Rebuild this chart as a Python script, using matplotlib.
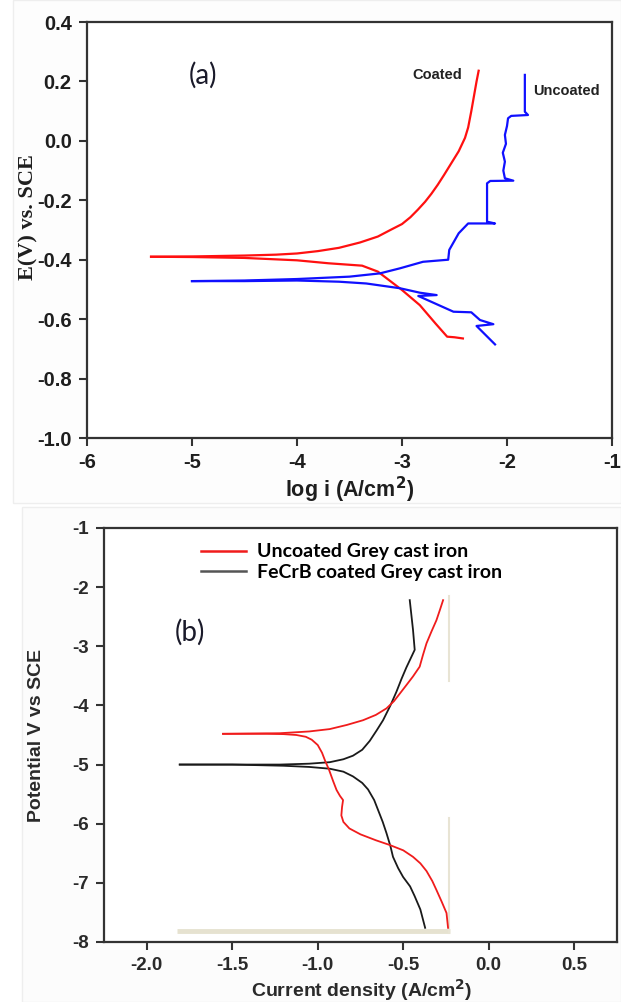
import matplotlib
matplotlib.use("Agg")
import matplotlib.pyplot as plt
from matplotlib.patches import Rectangle

plt.rcParams['axes.unicode_minus'] = False
plt.rcParams['font.family'] = ['Liberation Sans', 'DejaVu Sans']

# ---------------- Panel (a) data: log i (A/cm2) vs E (V vs SCE) ----------------
a_coated_anodic_x = [-5.39, -5.0, -4.5, -4.2, -4.0, -3.8, -3.6, -3.4, -3.23, -3.1, -3.0, -2.92,
                     -2.85, -2.78, -2.72, -2.66, -2.60, -2.53, -2.46, -2.40, -2.37, -2.34,
                     -2.31, -2.29, -2.27]
a_coated_anodic_y = [-0.390, -0.389, -0.386, -0.383, -0.379, -0.371, -0.360, -0.342, -0.322,
                     -0.298, -0.280, -0.257, -0.232, -0.205, -0.178, -0.148, -0.115, -0.075,
                     -0.035, 0.010, 0.045, 0.100, 0.160, 0.200, 0.236]
a_coated_cathodic_x = [-5.39, -5.0, -4.5, -4.0, -3.7, -3.38, -3.23, -3.0, -2.83, -2.68, -2.57,
                       -2.50, -2.42]
a_coated_cathodic_y = [-0.390, -0.391, -0.394, -0.402, -0.412, -0.420, -0.440, -0.502, -0.553,
                       -0.615, -0.659, -0.661, -0.665]
a_uncoated_anodic_x = [-5.0, -4.5, -4.0, -3.5, -3.21, -3.02, -2.80, -2.56, -2.55, -2.46, -2.37,
                       -2.114, -2.19, -2.19, -2.16, -1.94, -2.02, -2.035, -2.02, -2.04, -2.01,
                       -2.02, -2.00, -1.99, -1.96, -1.80, -1.83, -1.83]
a_uncoated_anodic_y = [-0.472, -0.470, -0.465, -0.457, -0.446, -0.429, -0.407, -0.400, -0.367,
                       -0.311, -0.278, -0.278, -0.272, -0.143, -0.135, -0.134, -0.126, -0.100,
                       -0.070, -0.040, -0.010, 0.020, 0.050, 0.076, 0.084, 0.087, 0.098, 0.222]
a_uncoated_cathodic_x = [-5.0, -4.5, -4.0, -3.6, -3.34, -3.02, -2.83, -2.67, -2.845, -2.51,
                         -2.34, -2.257, -2.13, -2.29, -2.114]
a_uncoated_cathodic_y = [-0.472, -0.472, -0.470, -0.474, -0.480, -0.496, -0.511, -0.519, -0.522,
                         -0.575, -0.577, -0.603, -0.617, -0.623, -0.685]
a_xticks = [-6, -5, -4, -3, -2, -1]
a_yticks = [-1.0, -0.8, -0.6, -0.4, -0.2, 0.0, 0.2, 0.4]

# ---------------- Panel (b) data: current density vs potential ----------------
b_uncoated_up_x = [-1.554, -1.40, -1.222, -1.05, -0.93, -0.83, -0.735, -0.66, -0.598, -0.555,
                   -0.52, -0.48, -0.443, -0.404, -0.385, -0.364, -0.335, -0.306, -0.285, -0.267]
b_uncoated_up_y = [-4.48, -4.475, -4.47, -4.44, -4.40, -4.33, -4.25, -4.16, -4.05, -3.93,
                   -3.80, -3.65, -3.51, -3.345, -3.15, -2.95, -2.75, -2.56, -2.38, -2.22]
b_uncoated_low_x = [-1.554, -1.3, -1.2, -1.125, -1.07, -1.035, -1.0, -0.975, -0.955, -0.935,
                    -0.91, -0.89, -0.87, -0.852, -0.858, -0.862, -0.85, -0.815, -0.75, -0.66,
                    -0.579, -0.50, -0.443, -0.40, -0.364, -0.33, -0.306, -0.275, -0.247, -0.238]
b_uncoated_low_y = [-4.48, -4.48, -4.485, -4.50, -4.53, -4.58, -4.67, -4.80, -4.95, -5.08,
                    -5.28, -5.43, -5.53, -5.60, -5.72, -5.86, -5.97, -6.08, -6.18, -6.28,
                    -6.36, -6.45, -6.56, -6.67, -6.80, -6.97, -7.12, -7.32, -7.51, -7.76]
b_coated_up_x = [-1.807, -1.5, -1.222, -1.05, -0.93, -0.85, -0.794, -0.74, -0.696, -0.655,
                 -0.618, -0.575, -0.54, -0.51, -0.482, -0.433, -0.443, -0.462]
b_coated_up_y = [-5.0, -5.0, -5.0, -4.985, -4.96, -4.91, -4.85, -4.75, -4.60, -4.42,
                 -4.25, -4.0, -3.77, -3.55, -3.36, -3.06, -2.72, -2.22]
b_coated_low_x = [-1.807, -1.5, -1.2, -1.05, -0.93, -0.85, -0.794, -0.74, -0.706, -0.67,
                  -0.647, -0.62, -0.598, -0.575, -0.56, -0.53, -0.501, -0.46, -0.434, -0.40,
                  -0.372]
b_coated_low_y = [-5.0, -5.0, -5.02, -5.04, -5.07, -5.12, -5.20, -5.31, -5.42, -5.60,
                  -5.77, -5.97, -6.16, -6.38, -6.56, -6.75, -6.90, -7.06, -7.22, -7.45,
                  -7.76]
b_labels = ["Uncoated Grey cast iron", "FeCrB coated Grey cast iron"]
b_xticks = [-2.0, -1.5, -1.0, -0.5, 0.0, 0.5]
b_yticks = [-8, -7, -6, -5, -4, -3, -2, -1]

W, H = 621, 1002
fig = plt.figure(figsize=(W / 100, H / 100), dpi=100)
fig.patch.set_facecolor('white')

# faint panel backgrounds (scanned figure look)
fig.add_artist(Rectangle((13 / W, 1 - 503 / H), 608 / W, 503 / H, transform=fig.transFigure,
                         facecolor='#fdfdfd', edgecolor='#eeeeee', lw=1, zorder=-10))
fig.add_artist(Rectangle((22 / W, 0), 599 / W, 1 - 507 / H, transform=fig.transFigure,
                         facecolor='#fcfcfc', edgecolor='#eeeeee', lw=1, zorder=-10))

# ---------------- Panel (a) ----------------
axa = fig.add_axes([87 / W, 1 - 438 / H, 525 / W, 416 / H])
axa.set_facecolor('white')
lw_a = 1.6
axa.plot(a_coated_anodic_x, a_coated_anodic_y, color='#ff1010', lw=lw_a)
axa.plot(a_coated_cathodic_x, a_coated_cathodic_y, color='#ff1010', lw=lw_a)
axa.plot(a_uncoated_anodic_x, a_uncoated_anodic_y, color='#1010ff', lw=lw_a)
axa.plot(a_uncoated_cathodic_x, a_uncoated_cathodic_y, color='#1010ff', lw=lw_a)
axa.set_xlim(-6, -1)
axa.set_ylim(-1.0, 0.4)
axa.set_xticks(a_xticks)
axa.set_xticklabels([str(t) for t in a_xticks])
axa.set_yticks(a_yticks)
axa.set_yticklabels(['%.1f' % t for t in a_yticks])
for lab in axa.get_xticklabels() + axa.get_yticklabels():
    lab.set_fontweight('bold')
    lab.set_fontsize(14.5)
    lab.set_color('#1e1e1e')
axa.tick_params(direction='out', length=6, width=1.5, color='#333333', pad=5)
for s in axa.spines.values():
    s.set_linewidth(1.6)
    s.set_color('#333333')
axa.set_xlabel('log i (A/cm$^\\mathbf{2}$)', fontsize=15.5, fontweight='bold', color='#1e1e1e',
               labelpad=2)
axa.set_ylabel('E(V) vs. SCE', fontsize=16, fontweight='bold', color='#1e1e1e',
               family=['Liberation Serif', 'DejaVu Serif'])
axa.yaxis.set_label_coords(-0.093, 0.53)
axa.text(-4.9, 0.222, '(a)', fontsize=20, color='#1a1a2a', family=['Lato', 'DejaVu Sans'],
         ha='center', va='center')
axa.text(-2.90, 0.222, 'Coated', fontsize=10.5, fontweight='bold', color='#222222',
         ha='left', va='center')
axa.text(-1.75, 0.168, 'Uncoated', fontsize=10.5, fontweight='bold', color='#222222',
         ha='left', va='center')

# ---------------- Panel (b) ----------------
axb = fig.add_axes([104 / W, 1 - 942 / H, 513 / W, 414 / H])
axb.set_facecolor('white')
# faint beige guide lines present in the source
axb.plot([-1.825, -0.226], [-7.81, -7.81], color='#e6e2d0', lw=3.5, solid_capstyle='butt', zorder=1)
axb.plot([-0.231, -0.231], [-2.15, -3.59], color='#e8e4d4', lw=1.5, zorder=1)
axb.plot([-0.231, -0.231], [-5.90, -7.84], color='#e8e4d4', lw=1.5, zorder=1)
lw_b = 1.3
l1, = axb.plot(b_uncoated_up_x, b_uncoated_up_y, color='#f01c1c', lw=lw_b, zorder=3)
axb.plot(b_uncoated_low_x, b_uncoated_low_y, color='#f01c1c', lw=lw_b, zorder=3)
l2, = axb.plot(b_coated_up_x, b_coated_up_y, color='#1a1a1a', lw=lw_b, zorder=2)
axb.plot(b_coated_low_x, b_coated_low_y, color='#1a1a1a', lw=lw_b, zorder=2)
axb.set_xlim(-2.25, 0.75)
axb.set_ylim(-8, -1)
axb.set_xticks(b_xticks)
axb.set_xticklabels(['%.1f' % t for t in b_xticks])
axb.set_yticks(b_yticks)
axb.set_yticklabels([str(t) for t in b_yticks])
for lab in axb.get_xticklabels() + axb.get_yticklabels():
    lab.set_fontweight('bold')
    lab.set_fontsize(13.5)
    lab.set_color('#2a2a2a')
axb.tick_params(direction='out', length=6, width=1.5, color='#333333', pad=5)
for s in axb.spines.values():
    s.set_linewidth(1.6)
    s.set_color('#333333')
axb.set_ylabel('Potential V vs SCE', fontsize=14, fontweight='bold', color='#2a2a2a')
axb.yaxis.set_label_coords(-0.115, 0.5)
fig.text(362 / W, 1 - 997 / H, 'Current density (A/cm$^\\mathbf{2}$)', fontsize=14,
         fontweight='bold', color='#2a2a2a', ha='center', va='baseline')
axb.text(-1.75, -2.77, '(b)', fontsize=20, color='#1a1a2a', family=['Lato', 'DejaVu Sans'],
         ha='center', va='center')
leg = axb.legend([l1, l2], b_labels, loc='upper left', bbox_to_anchor=(0.155, 1.005),
                 frameon=False, handlelength=2.3, handletextpad=0.6, labelspacing=0.18,
                 prop={'family': ['Lato', 'DejaVu Sans'], 'weight': 'bold', 'size': 14})
leg.get_lines()[1].set_color('#555555')
for ln in leg.get_lines():
    ln.set_linewidth(1.8)

fig.savefig('out.png', dpi=100)
